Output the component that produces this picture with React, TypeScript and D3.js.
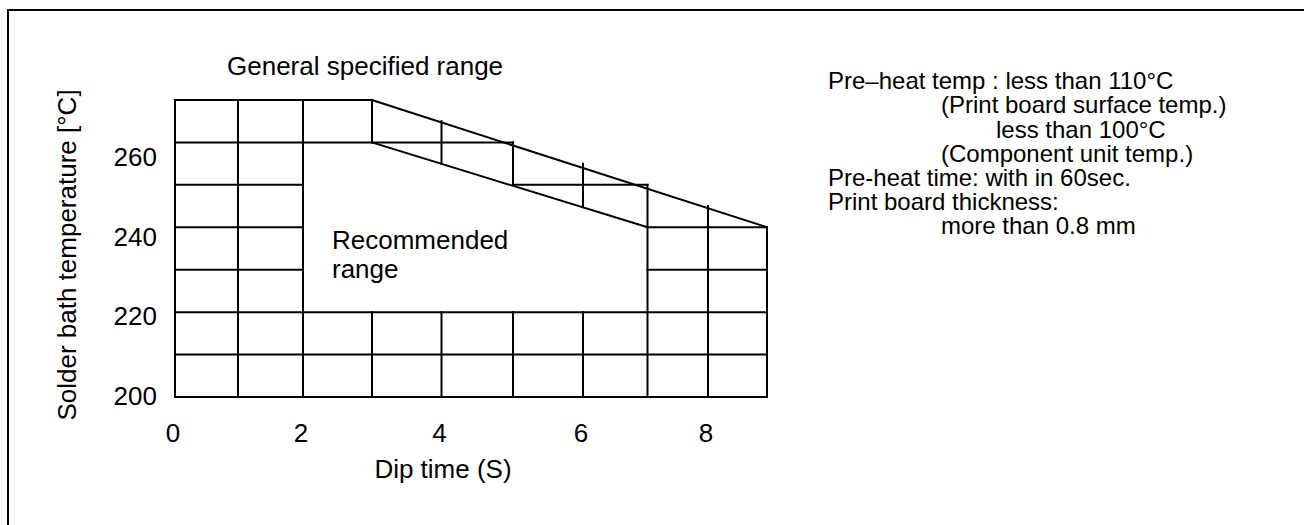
import { useMemo } from 'react';
import * as d3 from 'd3';

// dip time (s) and solder bath temperature (°C)
const xTicks = [0, 2, 4, 6, 8];
const yTicks = [200, 220, 240, 260];
const xCols = [0, 1, 2, 3, 4, 5, 6, 7, 8, 9];

// horizontal grid pieces: [temp, fromTime, toTime]
const hLines: [number, number, number][] = [
  [270, 0, 3],
  [260, 0, 5],
  [250, 0, 2],
  [250, 5, 7],
  [240, 0, 2],
  [240, 7, 9],
  [230, 0, 2],
  [230, 7, 9],
  [220, 0, 9],
  [210, 0, 9],
  [200, 0, 9],
];

// vertical grid pieces: [time, fromTemp, toTemp]
const vLines: [number, number, number][] = [
  [0, 200, 270],
  [1, 200, 270],
  [2, 200, 270],
  [3, 260, 270],
  [3, 200, 220],
  [4, 255, 265],
  [4, 200, 220],
  [5, 250, 260],
  [5, 200, 220],
  [6, 245, 255],
  [6, 200, 220],
  [7, 200, 250],
  [8, 200, 245],
  [9, 200, 240],
];

// sloped limits: [time, temp] pairs
const upperLimit: [number, number][] = [
  [3, 270],
  [9, 240],
];
const lowerLimit: [number, number][] = [
  [3, 260],
  [7, 240],
];

const notes = [
  'Pre\u2013heat temp : less than 110\u00b0C',
  '(Print board surface temp.)',
  'less than 100\u00b0C',
  '(Component unit temp.)',
  'Pre-heat time: with in 60sec.',
  'Print board thickness:',
  'more than 0.8 mm',
];

const W = 1304;
const H = 525;
const FONT = '"Liberation Sans", Arial, Helvetica, sans-serif';
const noteX = [828, 941, 996, 941, 828, 828, 941];

export default function App() {
  // the drawn columns are not quite even, so map each whole second
  const x = useMemo(
    () =>
      d3
        .scaleLinear()
        .domain(xCols)
        .range([175, 238, 303, 372, 441.5, 513, 583, 647.5, 708, 767]),
    []
  );
  const y = useMemo(() => d3.scaleLinear().domain([200, 270]).range([397, 100]), []);
  // tick labels sit a little below their grid lines
  const yLab = useMemo(() => d3.scaleLinear().domain([200, 260]).range([405, 166]), []);

  const line = d3
    .line<[number, number]>()
    .x((d) => x(d[0]))
    .y((d) => y(d[1]));

  return (
    <svg
      width={W}
      height={H}
      style={{ position: 'absolute', left: 0, top: 0, background: '#fff' }}
      fontFamily={FONT}
    >
      <rect x={0} y={0} width={W} height={H} fill="#fff" />
      {/* frame: only top and left edges are inside the picture */}
      <path d={`M8,${H} L8,10 L${W},10`} fill="none" stroke="#000" strokeWidth={2} />

      <g stroke="#000" strokeWidth={2} strokeLinecap="square" fill="none">
        {hLines.map(([t, a, b], i) => (
          <line key={`h${i}`} x1={x(a)} x2={x(b)} y1={y(t)} y2={y(t)} />
        ))}
        {vLines.map(([s, a, b], i) => (
          <line key={`v${i}`} x1={x(s)} x2={x(s)} y1={y(a)} y2={y(b)} />
        ))}
        <path d={line(upperLimit) ?? ''} />
        <path d={line(lowerLimit) ?? ''} />
      </g>

      <g fontSize={26} fill="#000">
        {xTicks.map((t) => (
          <text key={`xt${t}`} x={x(t) - 2} y={442} textAnchor="middle">
            {t}
          </text>
        ))}
        {yTicks.map((t) => (
          <text key={`yt${t}`} x={157} y={yLab(t)} textAnchor="end">
            {t}
          </text>
        ))}
        <text x={443} y={478} textAnchor="middle">
          Dip time (S)
        </text>
        <text transform="translate(76,255) rotate(-90)" textAnchor="middle">
          Solder bath temperature [°C]
        </text>
        <text x={227} y={74.5}>
          General specified range
        </text>
        <text x={332} y={248.5}>
          Recommended
        </text>
        <text x={332} y={277.5}>
          range
        </text>
      </g>

      <g fontSize={24} fill="#000">
        {notes.map((s, i) => (
          <text key={`n${i}`} x={noteX[i]} y={89.3 + i * 24.1}>
            {s}
          </text>
        ))}
      </g>
    </svg>
  );
}
